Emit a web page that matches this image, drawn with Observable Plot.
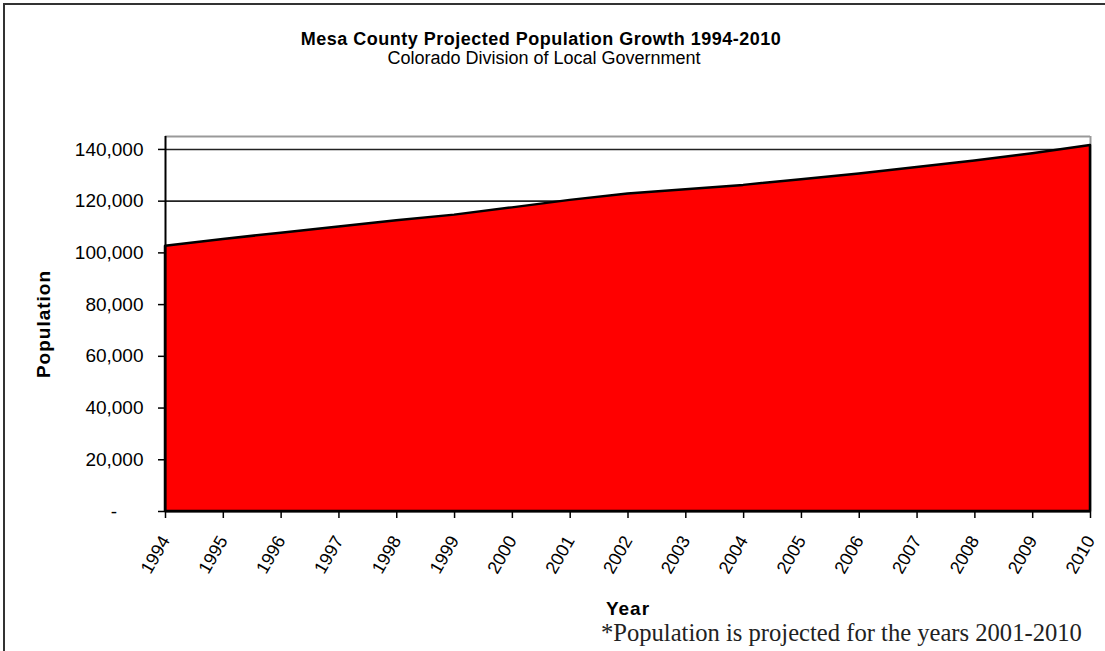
<!DOCTYPE html>
<html>
<head>
<meta charset="utf-8">
<script src="https://cdn.jsdelivr.net/npm/d3@7"></script>
<script src="https://cdn.jsdelivr.net/npm/@observablehq/plot@0.6"></script>
<style>
  body { margin: 0; background: #fff; }
  #wrap { position: relative; width: 1105px; height: 651px; overflow: hidden; font-family: "Liberation Sans", Arial, sans-serif; color: #000; }
  #border { position: absolute; left: 3px; top: 3px; width: 1300px; height: 900px; border-left: 2px solid #333; border-top: 2px solid #333; }
  .ttl { position: absolute; left: 0; text-align: center; line-height: 1; white-space: nowrap; }
  #title { width: 1082px; top: 30px; font-size: 18px; font-weight: bold; letter-spacing: 0.5px; }
  #subtitle { width: 1088px; top: 49px; font-size: 18px; }
  #note { position: absolute; left: 601px; top: 621px; font-family: "Liberation Serif", "Times New Roman", serif; font-size: 24.6px; line-height: 1; white-space: nowrap; color: #222; }
  #chart { position: absolute; left: 0; top: 0; }
</style>
</head>
<body>
<div id="wrap">
  <div id="border"></div>
  <div id="chart"></div>
  <div id="title" class="ttl">Mesa County Projected Population Growth 1994-2010</div>
  <div id="subtitle" class="ttl">Colorado Division of Local Government</div>
  <div id="note">*Population is projected for the years 2001-2010</div>
</div>
<script>
const years = [1994, 1995, 1996, 1997, 1998, 1999, 2000, 2001, 2002, 2003, 2004, 2005, 2006, 2007, 2008, 2009, 2010];
const population = [102600, 105200, 107600, 110000, 112400, 114600, 117400, 120300, 122800, 124400, 126100, 128300, 130500, 133000, 135500, 138300, 141500];
const yTicks = [0, 20000, 40000, 60000, 80000, 100000, 120000, 140000];
const yMax = 145000;

const data = years.map((year, i) => ({year, population: population[i]}));
const fmt = d3.format(",");

const chart = Plot.plot({
  width: 1105,
  height: 651,
  marginLeft: 165,
  marginRight: 15,
  marginTop: 136,
  marginBottom: 140,
  style: {fontFamily: "'Liberation Sans', Arial, sans-serif", background: "transparent", color: "#000"},
  x: {domain: [years[0], years[years.length - 1]]},
  y: {domain: [0, yMax]},
  marks: [
    Plot.gridY(yTicks.slice(1), {stroke: "#222", strokeOpacity: 1, strokeWidth: 1.6}),
    Plot.ruleY([yMax], {stroke: "#999", strokeWidth: 2}),
    Plot.ruleX([years[years.length - 1]], {stroke: "#999", strokeWidth: 2}),
    Plot.areaY(data, {x: "year", y: "population", fill: "#ff0000", stroke: "#000", strokeWidth: 2.5}),
    Plot.ruleX([years[0]], {stroke: "#000", strokeWidth: 2}),
    Plot.ruleY([0], {stroke: "#000", strokeWidth: 2}),
    Plot.axisY(yTicks, {
      tickSize: 7, tickPadding: 15, fontSize: 19, label: null,
      stroke: "#000", strokeWidth: 1.5,
      tickFormat: d => d === 0 ? "-\u00a0\u00a0\u00a0\u00a0\u00a0" : fmt(d)
    }),
    Plot.axisX(years, {
      tickSize: 7, tickPadding: 19, fontSize: 18, tickRotate: -60, label: null,
      stroke: "#000", strokeWidth: 1.5,
      tickFormat: d => String(d)
    }),
    Plot.text(["Population"], {text: d => d, frameAnchor: "left", dx: -122, rotate: -90, fontWeight: "bold", fontSize: 19, textAnchor: "middle", lineAnchor: "middle", fill: "#000"}),
    Plot.text(["Year"], {text: d => d, frameAnchor: "bottom", dy: 97, fontWeight: "bold", fontSize: 19, textAnchor: "middle", lineAnchor: "middle", fill: "#000"})
  ]
});
d3.select(chart).selectAll("g[aria-label='text'] text").style("letter-spacing", "1px");
document.getElementById("chart").appendChild(chart);
</script>
</body>
</html>
